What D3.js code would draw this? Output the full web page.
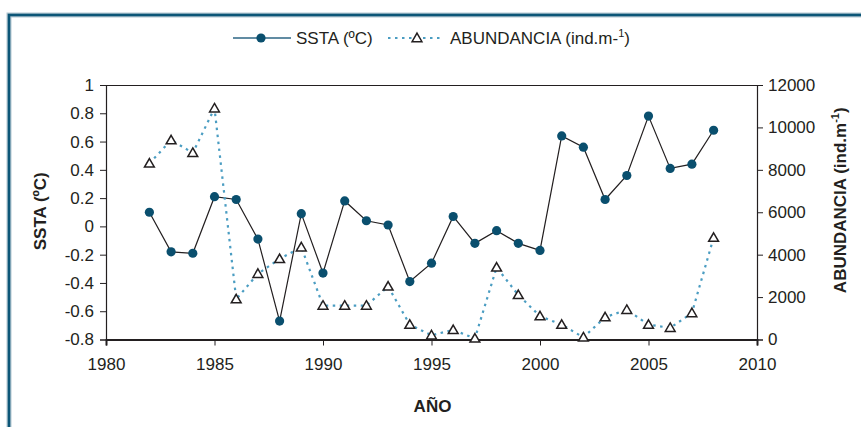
<!DOCTYPE html>
<html>
<head>
<meta charset="utf-8">
<script src="https://cdn.jsdelivr.net/npm/d3@7"></script>
<style>
  html, body { margin: 0; padding: 0; background: #ffffff; }
  svg { display: block; }
  text { font-family: "Liberation Sans", Arial, sans-serif; fill: #231f20; }
</style>
</head>
<body>
<svg id="chart" width="861" height="427"></svg>
<script>
// Years of observation
const years = [1982, 1983, 1984, 1985, 1986, 1987, 1988, 1989, 1990, 1991, 1992, 1993, 1994,
  1995, 1996, 1997, 1998, 1999, 2000, 2001, 2002, 2003, 2004, 2005, 2006, 2007, 2008];

// Sea surface temperature anomaly (ºC)
const ssta = [0.10, -0.18, -0.19, 0.21, 0.19, -0.09, -0.67, 0.09, -0.33, 0.18, 0.04, 0.01, -0.39,
  -0.26, 0.07, -0.12, -0.03, -0.12, -0.17, 0.64, 0.56, 0.19, 0.36, 0.78, 0.41, 0.44, 0.68];

// Abundance (ind.m-1)
const abundancia = [8300, 9400, 8800, 10900, 1900, 3100, 3800, 4350, 1600, 1600, 1600, 2500, 700,
  200, 450, 50, 3400, 2100, 1100, 700, 100, 1050, 1400, 700, 550, 1250, 4800];

// Tick values
const xTicks = [1980, 1985, 1990, 1995, 2000, 2005, 2010];
const sstaTicks = [-0.8, -0.6, -0.4, -0.2, 0, 0.2, 0.4, 0.6, 0.8, 1];
const abTicks = [0, 2000, 4000, 6000, 8000, 10000, 12000];

const svg = d3.select("#chart");

// Outer frame (open at the right and bottom edges)
svg.append("rect").attr("x", 9).attr("y", 15).attr("width", 900).attr("height", 450)
  .attr("fill", "none").attr("stroke", "#b3c7d2").attr("stroke-width", 5);
svg.append("rect").attr("x", 9).attr("y", 15).attr("width", 900).attr("height", 450)
  .attr("fill", "none").attr("stroke", "#0c5677").attr("stroke-width", 2.6);

const plotLeft = 106, plotRight = 757, plotTop = 85, plotBottom = 339.5;

const x = d3.scaleLinear().domain([1980, 2010]).range([plotLeft, plotRight]);
const yL = d3.scaleLinear().domain([-0.8, 1]).range([plotBottom, plotTop]);
const yR = d3.scaleLinear().domain([0, 12000]).range([plotBottom, plotTop]);

const fs = 17;

// Plot area top border
svg.append("line").attr("x1", plotLeft).attr("x2", plotRight)
  .attr("y1", plotTop + 0.5).attr("y2", plotTop + 0.5)
  .attr("stroke", "#231f20").attr("stroke-width", 1.2);

function styleAxis(g, w) {
  g.selectAll(".domain").attr("stroke", "#231f20").attr("stroke-width", w);
  g.selectAll(".tick line").attr("stroke", "#231f20").attr("stroke-width", 1);
  g.selectAll(".tick text").attr("font-size", fs).attr("fill", "#231f20")
    .attr("font-family", "'Liberation Sans', Arial, sans-serif");
}

// Left axis (SSTA)
const gL = svg.append("g").attr("transform", `translate(${plotLeft},0)`)
  .call(d3.axisLeft(yL).tickValues(sstaTicks).tickSizeOuter(0).tickSize(6).tickPadding(6)
    .tickFormat(d => String(+d.toFixed(1))));
styleAxis(gL, 1.2);

// Right axis (abundance)
const gR = svg.append("g").attr("transform", `translate(${plotRight},0)`)
  .call(d3.axisRight(yR).tickValues(abTicks).tickSizeOuter(0).tickSize(6).tickPadding(5)
    .tickFormat(d => String(d)));
styleAxis(gR, 1.2);

// Bottom axis (years)
const gB = svg.append("g").attr("transform", `translate(0,${plotBottom})`)
  .call(d3.axisBottom(x).tickValues(xTicks).tickSizeOuter(0).tickSize(6).tickPadding(12)
    .tickFormat(d => String(d)));
styleAxis(gB, 2);

// SSTA series: solid line with filled circles
const sstaData = years.map((yr, i) => ({ yr, v: ssta[i] }));
svg.append("path").datum(sstaData)
  .attr("d", d3.line().x(d => x(d.yr)).y(d => yL(d.v)))
  .attr("fill", "none").attr("stroke", "#231f20").attr("stroke-width", 1.2);
svg.append("g").selectAll("circle").data(sstaData).join("circle")
  .attr("cx", d => x(d.yr)).attr("cy", d => yL(d.v)).attr("r", 4.6)
  .attr("fill", "#0a4f6e");

// Abundance series: dotted line with open triangles
const abData = years.map((yr, i) => ({ yr, v: abundancia[i] }));
svg.append("path").datum(abData)
  .attr("d", d3.line().x(d => x(d.yr)).y(d => yR(d.v)))
  .attr("fill", "none").attr("stroke", "#4b9dc2").attr("stroke-width", 2.2)
  .attr("stroke-dasharray", "2.5,4.5");
const tri = d3.symbol().type(d3.symbolTriangle).size(42);
svg.append("g").selectAll("path").data(abData).join("path")
  .attr("d", tri)
  .attr("transform", d => `translate(${x(d.yr)},${yR(d.v) + 0.8})`)
  .attr("fill", "#ffffff").attr("stroke", "#231f20").attr("stroke-width", 1.5);

// Axis titles
svg.append("text").attr("transform", `translate(46,${(plotTop + plotBottom) / 2 - 1}) rotate(-90)`)
  .attr("text-anchor", "middle").attr("font-size", fs).attr("font-weight", "bold")
  .text("SSTA (ºC)");

const rt = svg.append("text")
  .attr("transform", `translate(846,${(plotTop + plotBottom) / 2 - 12}) rotate(-90)`)
  .attr("text-anchor", "middle").attr("font-size", fs).attr("font-weight", "bold");
rt.append("tspan").text("ABUNDANCIA (ind.m");
rt.append("tspan").attr("font-size", 11).attr("dy", -7).text("-1");
rt.append("tspan").attr("dy", 7).text(")");

svg.append("text").attr("x", (plotLeft + plotRight) / 2 + 1).attr("y", 412)
  .attr("text-anchor", "middle").attr("font-size", fs).attr("font-weight", "bold")
  .text("AÑO");

// Legend
const ly = 38;
const lg = svg.append("g");
lg.append("line").attr("x1", 233).attr("x2", 291).attr("y1", ly).attr("y2", ly)
  .attr("stroke", "#2d6684").attr("stroke-width", 1.6);
lg.append("circle").attr("cx", 261).attr("cy", ly).attr("r", 4.6).attr("fill", "#0a4f6e");
lg.append("text").attr("x", 296).attr("y", ly + 6).attr("font-size", fs).text("SSTA (ºC)");
lg.append("line").attr("x1", 388).attr("x2", 443).attr("y1", ly).attr("y2", ly)
  .attr("stroke", "#4b9dc2").attr("stroke-width", 2).attr("stroke-dasharray", "2.5,4.5");
lg.append("path").attr("d", tri).attr("transform", `translate(417,${ly + 0.8})`)
  .attr("fill", "#ffffff").attr("stroke", "#231f20").attr("stroke-width", 1.5);
const lt = lg.append("text").attr("x", 450).attr("y", ly + 6).attr("font-size", fs);
lt.append("tspan").text("ABUNDANCIA (ind.m-");
lt.append("tspan").attr("font-size", 11).attr("dy", -7).text("1");
lt.append("tspan").attr("dy", 7).text(")");
</script>
</body>
</html>
